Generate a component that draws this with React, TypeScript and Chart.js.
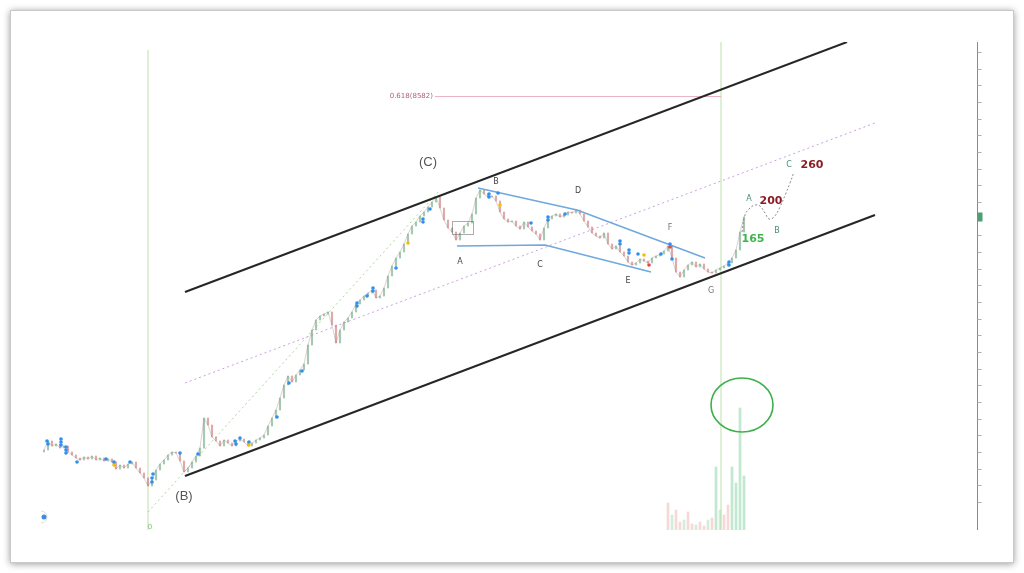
import React, { useEffect, useRef } from "react";
import { Chart, registerables } from "chart.js";

Chart.register(...registerables);

// Daily closes, one per bar, starting at bar 1
const closes = [
  3280, 3415, 3340, 3370, 3310, 3340, 3250, 3205, 3160, 3130,
  3175, 3145, 3190, 3130, 3160, 3115, 3145, 3100, 2995, 3055,
  3010, 3070, 3100, 3010, 2935, 2860, 2740, 2830, 2980, 3070,
  3130, 3205, 3250, 3235, 3115, 2950, 3010, 3100, 3190, 3310,
  3760, 3655, 3475, 3415, 3340, 3430, 3385, 3340, 3415, 3445,
  3400, 3340, 3385, 3430, 3460, 3505, 3640, 3760, 3880, 4060,
  4255, 4390, 4300, 4405, 4480, 4570, 4855, 5080, 5230, 5290,
  5320, 5350, 5155, 4885, 5080, 5200, 5260, 5350, 5470, 5530,
  5590, 5635, 5680, 5560, 5590, 5710, 5890, 6040, 6160, 6250,
  6370, 6520, 6640, 6700, 6790, 6850, 6925, 7000, 7075, 6910,
  6730, 6610, 6550, 6430, 6535, 6640, 6685, 6820, 7060, 7180,
  7120, 7075, 7090, 7015, 6850, 6745, 6700, 6715, 6640, 6595,
  6700, 6625, 6565, 6520, 6430, 6610, 6745, 6790, 6820, 6775,
  6805, 6850, 6835, 6880, 6820, 6715, 6625, 6535, 6490, 6460,
  6535, 6370, 6295, 6340, 6250, 6190, 6100, 6055, 6085, 6145,
  6115, 6085, 6160, 6190, 6220, 6265, 6340, 6160, 5950, 5875,
  5980, 6055, 6100, 6025, 6070, 5995, 5950, 5935, 5980, 6010,
  6040, 6085, 6160, 6280, 6550, 6775,
];
const firstOpen = 3250;

// Volume for the most recent bars (bar 157 onward)
const volumeStartBar = 157;
const volumes = [27, 15, 20, 8, 10, 18, 6, 5, 8, 4, 10, 12, 63, 20, 15, 25, 63, 47, 122, 54];

// Price channel: upper, lower and median lines
const upperChannel = [{ x: 36.25, y: 5650 }, { x: 201.75, y: 9400 }];
const lowerChannel = [{ x: 36.25, y: 2890 }, { x: 208.75, y: 6805 }];
const midChannel = [{ x: 36.25, y: 4285 }, { x: 208.75, y: 8185 }];
const trendLine = [{ x: 27, y: 2350 }, { x: 100, y: 7180 }];

// Fibonacci retracement level
const fibLevel = 8582;
const fibLabel = "0.618(8582)";
const fibFrom = 98.75;
const fibTo = 170.25;

// Vertical time markers
const timeMarkers = [
  { x: 27, top: 9280 },
  { x: 170.25, top: 9400 },
];

// Triangle (A–G) boundary lines
const triangleUpper = [{ x: 109.5, y: 7210 }, { x: 134.25, y: 6880 }, { x: 166.25, y: 6160 }];
const triangleLower = [{ x: 104.25, y: 6340 }, { x: 126.25, y: 6355 }, { x: 152.75, y: 5950 }];

// Projected A-B-C path
const projection = [
  { x: 175.5, y: 6550 }, { x: 176.25, y: 6805 }, { x: 177.5, y: 6910 },
  { x: 178.75, y: 6955 }, { x: 180, y: 6940 }, { x: 181.25, y: 6835 },
  { x: 182.25, y: 6745 }, { x: 183.5, y: 6775 }, { x: 185, y: 6925 },
  { x: 186.5, y: 7135 }, { x: 187.5, y: 7285 }, { x: 188.5, y: 7450 },
];

// Indicator signal dots
const blueSignals = [
  { x: 1.75, y: 3415 }, { x: 2, y: 3370 }, { x: 5.25, y: 3445 }, { x: 5.25, y: 3400 },
  { x: 5.25, y: 3355 }, { x: 6.5, y: 3325 }, { x: 6.5, y: 3280 }, { x: 6.5, y: 3235 },
  { x: 9.25, y: 3100 }, { x: 16.5, y: 3145 }, { x: 18.5, y: 3100 }, { x: 22.5, y: 3100 },
  { x: 28, y: 2800 }, { x: 28, y: 2860 }, { x: 28.25, y: 2920 }, { x: 35, y: 3235 },
  { x: 39.5, y: 3220 }, { x: 48.75, y: 3415 }, { x: 49, y: 3370 }, { x: 50, y: 3460 },
  { x: 52.25, y: 3400 }, { x: 59.25, y: 3775 }, { x: 62.25, y: 4285 }, { x: 65.5, y: 4465 },
  { x: 79.25, y: 5485 }, { x: 79.25, y: 5440 }, { x: 81.75, y: 5590 }, { x: 83.25, y: 5710 },
  { x: 83.25, y: 5665 }, { x: 89, y: 6010 }, { x: 95.75, y: 6745 }, { x: 95.75, y: 6700 },
  { x: 97.5, y: 6895 }, { x: 112.25, y: 7120 }, { x: 112.25, y: 7075 }, { x: 114.5, y: 7135 },
  { x: 122.75, y: 6685 }, { x: 127, y: 6775 }, { x: 127, y: 6730 }, { x: 131.25, y: 6820 },
  { x: 145, y: 6415 }, { x: 145, y: 6370 }, { x: 147.25, y: 6280 }, { x: 147.25, y: 6235 },
  { x: 149.5, y: 6220 }, { x: 155.25, y: 6220 }, { x: 157.5, y: 6370 }, { x: 158, y: 6145 },
  { x: 172.25, y: 6100 }, { x: 172.25, y: 6055 },
];
const yellowSignals = [
  { x: 18.5, y: 3055 }, { x: 52.25, y: 3355 }, { x: 92, y: 6385 }, { x: 115, y: 6955 }, { x: 151, y: 6205 },
];
const redSignals = [{ x: 152.25, y: 6055 }, { x: 157.5, y: 6325 }];

// Small consolidation box near wave A
const boxCorners = { x1: 103, y1: 6715, x2: 108.25, y2: 6520 };

// Wave labels
type WaveLabel = { text: string; x: number; y: number; font: string; color: string };
const waveLabels: WaveLabel[] = [
  { text: "(C)", x: 97, y: 7600, font: "13px 'Liberation Sans'", color: "#555" },
  { text: "(B)", x: 36, y: 2590, font: "13px 'Liberation Sans'", color: "#555" },
  { text: "A", x: 105, y: 6100, font: "8px 'DejaVu Sans'", color: "#444" },
  { text: "B", x: 114, y: 7300, font: "8px 'DejaVu Sans'", color: "#444" },
  { text: "C", x: 125, y: 6055, font: "8px 'DejaVu Sans'", color: "#444" },
  { text: "D", x: 134.5, y: 7165, font: "8px 'DejaVu Sans'", color: "#444" },
  { text: "E", x: 147, y: 5815, font: "8px 'DejaVu Sans'", color: "#444" },
  { text: "F", x: 157.5, y: 6610, font: "8px 'DejaVu Sans'", color: "#777" },
  { text: "G", x: 167.75, y: 5665, font: "8px 'DejaVu Sans'", color: "#777" },
  { text: "A", x: 177.25, y: 7045, font: "8px 'DejaVu Sans'", color: "#4b8b7b" },
  { text: "B", x: 184.25, y: 6565, font: "8px 'DejaVu Sans'", color: "#4b8b7b" },
  { text: "C", x: 187.25, y: 7555, font: "8px 'DejaVu Sans'", color: "#4b8b7b" },
  { text: "165", x: 178.25, y: 6445, font: "bold 11px 'DejaVu Sans'", color: "#3db54a" },
  { text: "200", x: 182.75, y: 7015, font: "bold 11px 'DejaVu Sans'", color: "#8b1c24" },
  { text: "260", x: 193, y: 7555, font: "bold 11px 'DejaVu Sans'", color: "#8b1c24" },
];

// Volume spike highlight
const highlight = { x: 175.5, y: 3955, rx: 31, ry: 27 };

const Y_MIN = 2080;
const Y_MAX = 9400;
const X_MAX = 234.25;

const overlayPlugin = {
  id: "overlay",
  afterDatasetsDraw(chart: any) {
    const { ctx, chartArea, scales } = chart;
    const xs = scales.x;
    const ys = scales.y;
    ctx.save();

    // consolidation box
    ctx.strokeStyle = "rgba(90,90,90,0.5)";
    ctx.lineWidth = 1;
    const bx1 = xs.getPixelForValue(boxCorners.x1);
    const by1 = ys.getPixelForValue(boxCorners.y1);
    const bx2 = xs.getPixelForValue(boxCorners.x2);
    const by2 = ys.getPixelForValue(boxCorners.y2);
    ctx.strokeRect(Math.round(bx1) + 0.5, Math.round(by1) + 0.5, bx2 - bx1, by2 - by1);

    // highlight ellipse
    ctx.beginPath();
    ctx.ellipse(xs.getPixelForValue(highlight.x), ys.getPixelForValue(highlight.y), highlight.rx, highlight.ry, 0, 0, Math.PI * 2);
    ctx.strokeStyle = "#3cb04a";
    ctx.lineWidth = 1.6;
    ctx.stroke();

    // fib label
    ctx.font = "7px 'DejaVu Sans'";
    ctx.fillStyle = "#b0607a";
    ctx.textAlign = "right";
    ctx.textBaseline = "middle";
    ctx.fillText(fibLabel, xs.getPixelForValue(fibFrom) - 2, ys.getPixelForValue(fibLevel));

    // wave labels
    ctx.textAlign = "center";
    for (const l of waveLabels) {
      ctx.font = l.font;
      ctx.fillStyle = l.color;
      ctx.fillText(l.text, xs.getPixelForValue(l.x), ys.getPixelForValue(l.y));
    }

    // time marker zero label
    ctx.font = "7px 'DejaVu Sans'";
    ctx.fillStyle = "#7cc46a";
    ctx.fillText("0", xs.getPixelForValue(timeMarkers[0].x) + 2, chartArea.bottom - 3);

    // right price axis
    const ax = chartArea.right + 0.5;
    ctx.strokeStyle = "#8a8a8a";
    ctx.lineWidth = 1;
    ctx.beginPath();
    ctx.moveTo(ax, chartArea.top);
    ctx.lineTo(ax, chartArea.bottom);
    ctx.stroke();
    ctx.strokeStyle = "#b0b0b0";
    for (let v = 2500; v <= Y_MAX; v += 250) {
      const y = Math.round(ys.getPixelForValue(v)) + 0.5;
      ctx.beginPath();
      ctx.moveTo(ax, y);
      ctx.lineTo(ax + 4, y);
      ctx.stroke();
    }
    const last = closes[closes.length - 1];
    const ly = ys.getPixelForValue(last);
    ctx.fillStyle = "#4f9e74";
    ctx.fillRect(ax, ly - 4.5, 5, 9);

    // logo mark
    ctx.beginPath();
    ctx.arc(chartArea.left + 4, chartArea.bottom - 13, 2.5, 0, Math.PI * 2);
    ctx.fillStyle = "#3a8de0";
    ctx.fill();
    ctx.beginPath();
    ctx.arc(chartArea.left + 1, chartArea.bottom - 13, 6, -Math.PI / 2, Math.PI / 2);
    ctx.strokeStyle = "rgba(160,160,160,0.35)";
    ctx.stroke();

    ctx.restore();
  },
};

function lineSet(data: any[], color: string, width: number, dash: number[] = [], extra: any = {}) {
  return {
    type: "line",
    data,
    borderColor: color,
    borderWidth: width,
    borderDash: dash,
    pointRadius: 0,
    fill: false,
    tension: 0,
    ...extra,
  };
}

function dots(data: any[], color: string) {
  return {
    type: "line",
    data,
    showLine: false,
    pointRadius: 1.8,
    pointBorderWidth: 0,
    pointBackgroundColor: color,
    borderColor: color,
    order: 0,
  };
}

export default function App() {
  const ref = useRef<HTMLCanvasElement | null>(null);

  useEffect(() => {
    if (!ref.current) return;

    const bodies = closes.map((c, i) => {
      const open = i === 0 ? firstOpen : closes[i - 1];
      return { x: i + 1, y: [open, c] };
    });
    const bodyColors = closes.map((c, i) => {
      const open = i === 0 ? firstOpen : closes[i - 1];
      return c >= open ? "rgba(110,165,125,0.6)" : "rgba(200,115,115,0.6)";
    });
    const closeLine = closes.map((c, i) => ({ x: i + 1, y: c }));
    const volData = volumes.map((v, i) => ({ x: volumeStartBar + i, y: v }));
    const volColors = volumes.map((v, i) =>
      v > 40 ? "rgba(120,205,150,0.45)" : i % 3 === 1 ? "rgba(120,205,150,0.35)" : "rgba(235,140,140,0.35)"
    );

    const chart = new Chart(ref.current, {
      type: "bar",
      data: {
        datasets: [
          {
            type: "bar",
            data: volData,
            yAxisID: "v",
            backgroundColor: volColors,
            barThickness: 2,
            grouped: false,
            order: 20,
          },
          ...timeMarkers.map((m) =>
            lineSet([{ x: m.x, y: Y_MIN }, { x: m.x, y: m.top }], "rgba(170,215,150,0.8)", 1, [], { order: 19 })
          ),
          lineSet([{ x: fibFrom, y: fibLevel }, { x: fibTo, y: fibLevel }], "rgba(230,170,190,0.9)", 1, [], { order: 18 }),
          lineSet(trendLine, "rgba(150,205,130,0.8)", 1, [2, 3], { order: 17 }),
          lineSet(midChannel, "rgba(195,150,220,0.9)", 1, [2, 3], { order: 16 }),
          lineSet(closeLine, "rgba(150,130,130,0.45)", 0.8, [], { order: 11 }),
          {
            type: "bar",
            data: bodies,
            backgroundColor: bodyColors,
            barThickness: 1.5,
            grouped: false,
            order: 10,
          },
          lineSet(triangleUpper, "#6fa8dc", 1.5, [], { order: 5 }),
          lineSet(triangleLower, "#6fa8dc", 1.5, [], { order: 5 }),
          lineSet(projection, "#8a8a8a", 1, [2, 2], { order: 5, tension: 0.4 }),
          lineSet(upperChannel, "#262626", 2, [], { order: 4 }),
          lineSet(lowerChannel, "#262626", 2, [], { order: 4 }),
          dots(blueSignals, "#2f8ff0"),
          dots(yellowSignals, "#f5c000"),
          dots(redSignals, "#e04848"),
        ] as any,
      },
      options: {
        responsive: false,
        animation: false,
        devicePixelRatio: 1,
        layout: { padding: { left: 40, right: 47, top: 42, bottom: 43 } },
        plugins: { legend: { display: false }, tooltip: { enabled: false } },
        scales: {
          x: { type: "linear", min: 0, max: X_MAX, offset: false, display: false },
          y: { type: "linear", min: Y_MIN, max: Y_MAX, display: false },
          v: { type: "linear", min: 0, max: 488, display: false },
        },
      } as any,
      plugins: [overlayPlugin],
    });

    return () => chart.destroy();
  }, []);

  return (
    <div style={{ position: "absolute", left: 0, top: 0, width: 1024, height: 573, background: "#fff", overflow: "hidden" }}>
      <div
        style={{
          position: "absolute",
          left: 10,
          top: 10,
          width: 1004,
          height: 553,
          boxSizing: "border-box",
          border: "1px solid #c9c9c9",
          background: "#fff",
          boxShadow: "0 1px 7px rgba(0,0,0,0.4)",
        }}
      />
      <canvas ref={ref} width={1024} height={573} style={{ position: "absolute", left: 0, top: 0 }} />
    </div>
  );
}
